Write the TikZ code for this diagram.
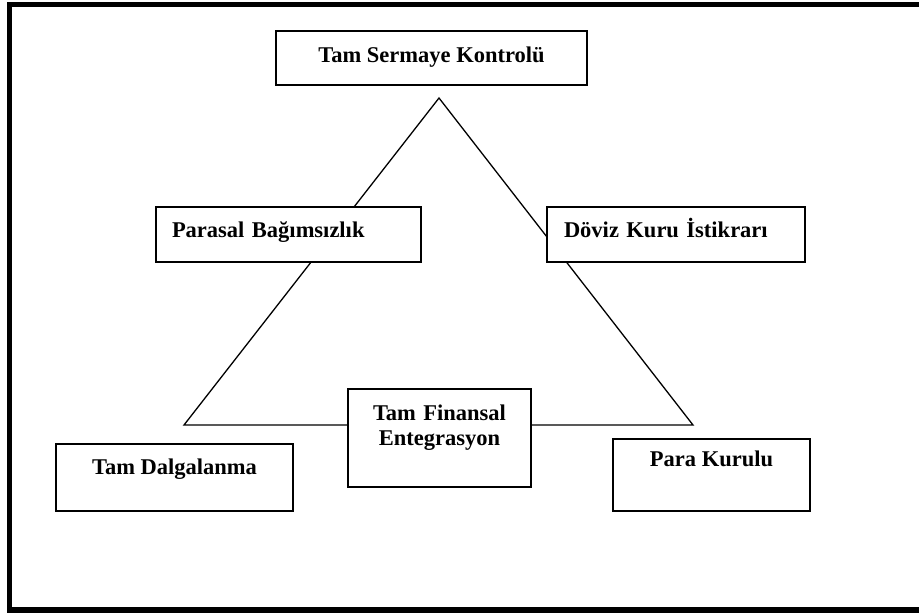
\documentclass[tikz,border=0pt]{standalone}
\usepackage{fontspec}
\setmainfont{Liberation Serif}
\usetikzlibrary{positioning,backgrounds}

\tikzset{
    kutu/.style={rectangle, draw, fill=white, line width=1.6pt, anchor=north west,
        inner sep=0pt, outer sep=0pt, font=\bfseries\fontsize{22.5}{25}\selectfont},
    kenar/.style={line width=1.3pt},
    cerceve/.style={line width=5.5pt}
}

\begin{document}
\begin{tikzpicture}[x=1pt,y=-1pt]
    \useasboundingbox (0,0) rectangle (919,614);

    % Outer frame (right side cut off)
    \draw[cerceve] (919,4.5) -- (9.5,4.5) -- (9.5,610) -- (919,610);

    % Boxes
    \node[kutu, minimum width=311pt, text height=31pt, text depth=23pt] (sermaye) at (276,31) {Tam Sermaye Kontrolü};
    \node[kutu, text width=233pt, inner xsep=16pt, align=left, text height=30pt, text depth=25pt] (parasal) at (156,207) {Parasal Bağımsızlık};
    \node[kutu, text width=224pt, inner xsep=17pt, align=left, text height=30pt, text depth=25pt] (doviz) at (547,207) {Döviz Kuru İstikrarı};
    \node[kutu, text width=183pt, align=center, text height=31pt, text depth=67pt] (finansal) at (348,389) {Tam Finansal\\Entegrasyon};
    \node[kutu, minimum width=237pt, text height=30pt, text depth=37pt] (dalgalanma) at (56,444) {Tam Dalgalanma};
    \node[kutu, minimum width=197pt, text height=27pt, text depth=45pt] (kurul) at (613,439) {Para Kurulu};

    % Triangle corners
    \coordinate (tepe) at (439,98);
    \coordinate (solkose) at (184,425);
    \coordinate (sagkose) at (693,425);

    % Triangle behind the boxes
    \begin{scope}[on background layer]
        \draw[kenar] (tepe) -- (solkose) -- (sagkose) -- cycle;
    \end{scope}
\end{tikzpicture}
\end{document}
